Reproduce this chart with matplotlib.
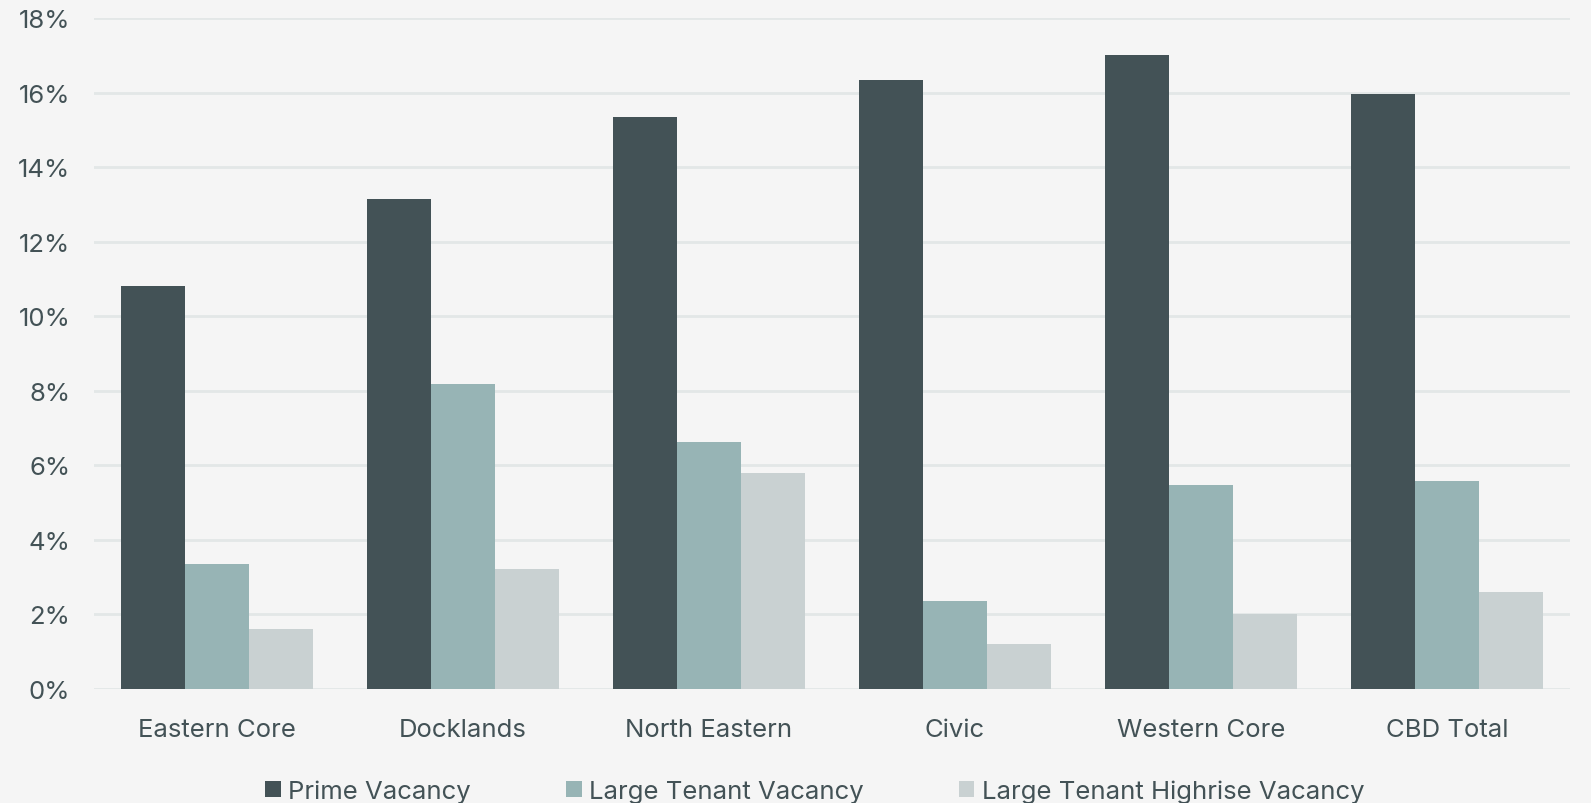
import matplotlib
matplotlib.use("Agg")
import matplotlib.pyplot as plt
import numpy as np

categories = ["Eastern Core", "Docklands", "North Eastern", "Civic", "Western Core", "CBD Total"]
prime_vacancy = [10.8, 13.15, 15.35, 16.35, 17.0, 15.95]
large_tenant_vacancy = [3.35, 8.17, 6.62, 2.35, 5.48, 5.57]
large_tenant_highrise_vacancy = [1.6, 3.22, 5.8, 1.2, 2.02, 2.6]
series_names = ["Prime Vacancy", "Large Tenant Vacancy", "Large Tenant Highrise Vacancy"]
yticks = [0, 2, 4, 6, 8, 10, 12, 14, 16, 18]

colors = ["#435256", "#97b4b5", "#c9d1d2"]
bg = "#f5f5f5"
text_color = "#435256"

plt.rcParams['font.family'] = ['Inter', 'DejaVu Sans']

fig = plt.figure(figsize=(15.91, 8.04), dpi=100, facecolor=bg)
ax = fig.add_axes([94/1591, 1-690/804, (1570-94)/1591, (690-19)/804])
ax.set_facecolor(bg)

x = np.arange(len(categories))
w = 0.26
series = [prime_vacancy, large_tenant_vacancy, large_tenant_highrise_vacancy]
handles = []
for i, (vals, name, c) in enumerate(zip(series, series_names, colors)):
    h = ax.bar(x + (i - 1) * w, vals, width=w, color=c, label=name, zorder=3, linewidth=0)
    handles.append(h)

ax.set_xlim(-0.5, len(categories) - 0.5)
ax.set_ylim(0, 18)
ax.set_yticks(yticks)
ax.set_yticklabels([f"{t}%" for t in yticks])
ax.set_xticks(x)
ax.set_xticklabels(categories)
ax.yaxis.grid(True, color="#e3e7e7", linewidth=2, zorder=0)
ax.set_axisbelow(True)
for s in ax.spines.values():
    s.set_visible(False)
ax.tick_params(axis='both', length=0, labelsize=18.5, colors=text_color)
ax.tick_params(axis='y', pad=17)
ax.tick_params(axis='x', pad=21)

fig.legend(handles=handles, labels=series_names, loc='center', bbox_to_anchor=(815/1591, 1-792/804),
           ncol=3, frameon=False, fontsize=18.5, labelcolor=text_color,
           handlelength=0.6, handleheight=0.6, handletextpad=0.3, columnspacing=3.7)

fig.savefig("out.png", dpi=100, facecolor=bg)
